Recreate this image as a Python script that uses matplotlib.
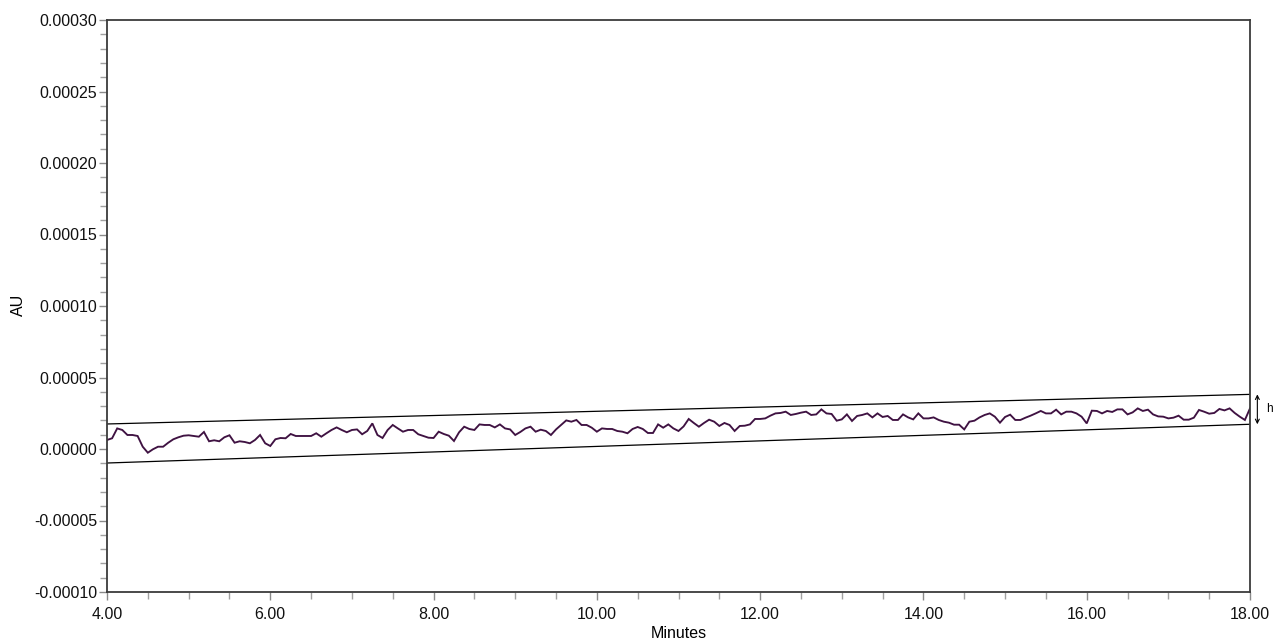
import numpy as np
import matplotlib
matplotlib.use("Agg")
import matplotlib.pyplot as plt
from matplotlib.ticker import MultipleLocator, FuncFormatter

# ---- data (signal in units of 1e-5 AU, sampled every 0.0625 min from 4.00 min) ----
t_start = 4.0
t_step = 0.0625
signal_e5 = [
    0.63, 0.75, 1.44, 1.33, 0.98, 0.98, 0.91, 0.16, -0.26, -0.02, 0.16, 0.16, 0.44, 0.68, 0.82,
    0.93, 0.96, 0.91, 0.86, 1.19, 0.54, 0.61, 0.54, 0.82, 0.96, 0.44, 0.54, 0.49, 0.40, 0.63,
    0.98, 0.40, 0.21, 0.68, 0.77, 0.75, 1.05, 0.91, 0.91, 0.91, 0.91, 1.10, 0.86, 1.10, 1.33,
    1.51, 1.33, 1.17, 1.33, 1.37, 1.03, 1.26, 1.79, 0.98, 0.77, 1.33, 1.68, 1.44, 1.21, 1.33,
    1.33, 1.03, 0.91, 0.79, 0.77, 1.21, 1.05, 0.93, 0.56, 1.17, 1.56, 1.40, 1.33, 1.72, 1.68,
    1.68, 1.51, 1.72, 1.44, 1.37, 0.98, 1.19, 1.44, 1.56, 1.21, 1.35, 1.26, 0.98, 1.37, 1.68,
    2.00, 1.91, 2.03, 1.68, 1.68, 1.49, 1.21, 1.44, 1.40, 1.40, 1.26, 1.21, 1.10, 1.40, 1.54,
    1.40, 1.12, 1.12, 1.72, 1.49, 1.72, 1.44, 1.26, 1.58, 2.10, 1.82, 1.56, 1.82, 2.05, 1.91,
    1.61, 1.82, 1.68, 1.26, 1.61, 1.63, 1.72, 2.10, 2.10, 2.14, 2.33, 2.49, 2.52, 2.61, 2.38,
    2.45, 2.54, 2.61, 2.38, 2.42, 2.77, 2.49, 2.45, 1.98, 2.07, 2.42, 1.96, 2.31, 2.38, 2.49,
    2.21, 2.49, 2.24, 2.31, 2.03, 2.03, 2.42, 2.21, 2.07, 2.49, 2.14, 2.14, 2.21, 2.03, 1.91,
    1.84, 1.70, 1.70, 1.37, 1.91, 1.98, 2.21, 2.38, 2.49, 2.26, 1.84, 2.24, 2.40, 2.03, 2.03,
    2.19, 2.33, 2.49, 2.66, 2.49, 2.49, 2.75, 2.42, 2.61, 2.61, 2.49, 2.26, 1.79, 2.68, 2.66,
    2.49, 2.66, 2.59, 2.77, 2.77, 2.42, 2.56, 2.84, 2.66, 2.75, 2.42, 2.28, 2.26, 2.14, 2.19,
    2.33, 2.05, 2.05, 2.19, 2.73, 2.61, 2.47, 2.52, 2.80, 2.70, 2.84, 2.52, 2.26, 2.03, 2.84,
]
upper_x = [4.0, 18.0]
upper_y = [1.75e-5, 3.82e-5]
lower_x = [4.0, 18.0]
lower_y = [-0.98e-5, 1.73e-5]
x_major = [4, 6, 8, 10, 12, 14, 16, 18]
y_major = [-0.00010, -0.00005, 0.0, 0.00005, 0.00010, 0.00015, 0.00020, 0.00025, 0.00030]

minutes = t_start + t_step * np.arange(len(signal_e5))
signal = np.array(signal_e5) * 1e-5

plt.rcParams['font.family'] = ['Liberation Sans', 'DejaVu Sans']

W, H = 1288, 643
fig = plt.figure(figsize=(W / 100, H / 100), dpi=100)
ax = fig.add_axes([107 / W, 1 - 592 / H, (1250 - 107) / W, (592 - 20) / H])

ax.plot(minutes, signal, color='#3f1242', lw=1.35, solid_joinstyle='miter')
ax.plot(upper_x, upper_y, color='black', lw=0.9)
ax.plot(lower_x, lower_y, color='black', lw=0.9)

ax.set_xlim(4, 18)
ax.set_ylim(-0.0001, 0.0003)
ax.set_xticks(x_major)
ax.set_yticks(y_major)
ax.xaxis.set_minor_locator(MultipleLocator(0.5))
ax.yaxis.set_minor_locator(MultipleLocator(0.00001))
ax.xaxis.set_major_formatter(FuncFormatter(lambda v, p: f"{v:.2f}"))
ax.yaxis.set_major_formatter(FuncFormatter(lambda v, p: f"{v:.5f}"))

for s in ax.spines.values():
    s.set_color('#3c3c3c')
    s.set_linewidth(1.3)
ax.tick_params(which='major', length=6, width=1, color='#8a8a8a', labelsize=11.5,
               labelcolor='#111111', pad=1)
ax.tick_params(which='minor', length=5, width=1, color='#a0a0a0')
ax.tick_params(axis='x', which='major', pad=5)

# height marker
x_arrow = 18.09
ax.annotate('', xy=(x_arrow, upper_y[-1]), xytext=(x_arrow, lower_y[-1]),
            arrowprops=dict(arrowstyle='<->', lw=0.8, color='black',
                            shrinkA=0, shrinkB=0, mutation_scale=7),
            annotation_clip=False)
ax.text(18.2, 2.8e-5, 'h', fontsize=8.5, va='center', ha='left', clip_on=False)

fig.text(18 / W, 1 - 305 / H, 'AU', rotation=90, ha='center', va='center', fontsize=11.5)
fig.text(679 / W, 1 - 634 / H, 'Minutes', ha='center', va='center', fontsize=11.5)

fig.savefig('out.png', dpi=100, facecolor='white')
